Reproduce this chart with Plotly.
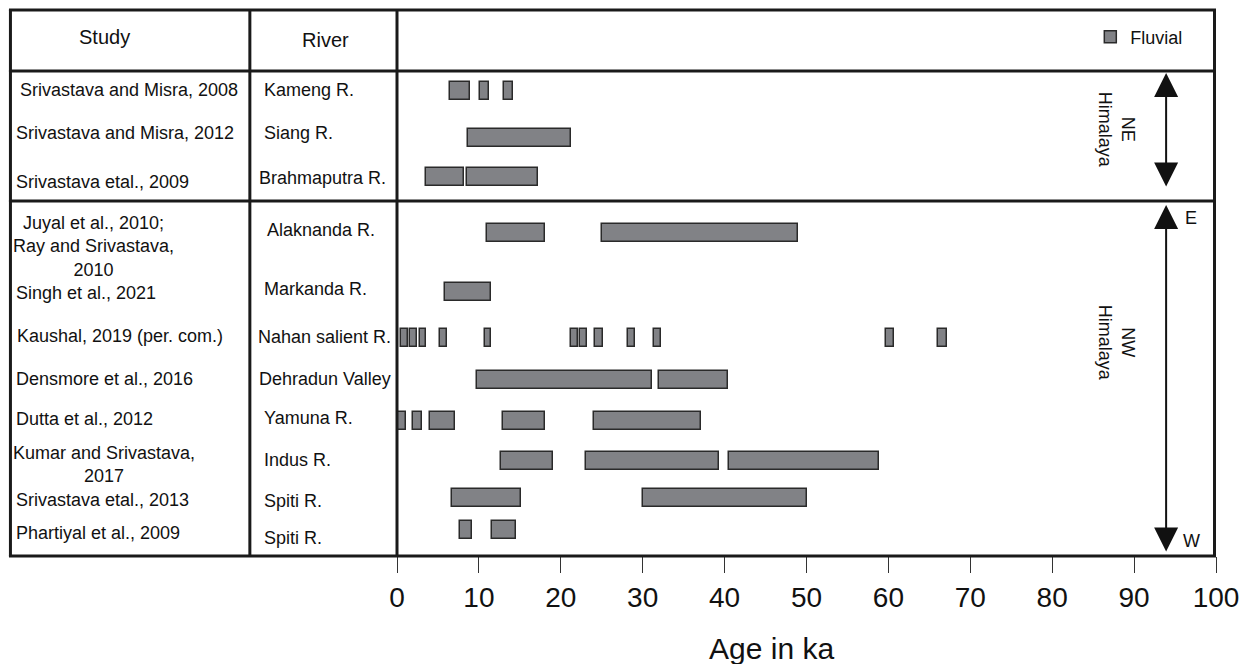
import plotly.graph_objects as go

# ---------------- data ----------------
studies = [
    "Srivastava and Misra, 2008",
    "Srivastava and Misra, 2012",
    "Srivastava etal., 2009",
    "Juyal et al., 2010;<br>Ray and Srivastava,<br>2010",
    "Singh et al., 2021",
    "Kaushal, 2019 (per. com.)",
    "Densmore et al., 2016",
    "Dutta et al., 2012",
    "Kumar and Srivastava,<br>2017",
    "Srivastava etal., 2013",
    "Phartiyal et al., 2009",
]
rivers = [
    "Kameng R.", "Siang R.", "Brahmaputra R.", "Alaknanda R.", "Markanda R.",
    "Nahan salient R.", "Dehradun Valley", "Yamuna R.", "Indus R.", "Spiti R.", "Spiti R.",
]

# fluvial age intervals (start ka, end ka) per row
kameng = [(6.5, 8.9), (10.1, 11.2), (13.1, 14.2)]
siang = [(8.7, 21.2)]
brahmaputra = [(3.5, 8.2), (8.6, 17.2)]
alaknanda = [(11.0, 18.1), (25.0, 49.0)]
markanda = [(5.9, 11.5)]
nahan = [(0.5, 1.3), (1.6, 2.5), (2.8, 3.6), (5.2, 6.1), (10.7, 11.5), (21.2, 22.1),
         (22.3, 23.2), (24.2, 25.1), (28.2, 29.1), (31.4, 32.2), (59.7, 60.7), (66.1, 67.1)]
dehradun = [(9.8, 31.1), (32.0, 40.4)]
yamuna = [(0.0, 1.1), (2.0, 3.1), (4.0, 7.1), (13.0, 18.1), (24.0, 37.1)]
indus = [(12.7, 19.1), (23.1, 39.3), (40.5, 58.8)]
spiti_2013 = [(6.7, 15.2), (30.0, 50.0)]
spiti_2009 = [(7.7, 9.2), (11.6, 14.5)]
row_intervals = [kameng, siang, brahmaputra, alaknanda, markanda, nahan,
                 dehradun, yamuna, indus, spiti_2013, spiti_2009]

x_ticks = [0, 10, 20, 30, 40, 50, 60, 70, 80, 90, 100]

# ---------------- layout helpers (pixel geometry of the table) ----------------
W, H = 1249, 664
ML, MR, MT, MB = 397, 31, 10, 108
PW = W - ML - MR
PH = H - MT - MB
row_y = [90.5, 138.3, 176.7, 233, 292.2, 338.3, 379.7, 420.5, 461.2, 497.7, 529.8]
study_pos = [(17, 90), (13, 133), (13, 182), (10, 246), (13, 293), (14, 336),
             (13, 379), (13, 419), (10, 464), (13, 500), (13, 533)]
river_pos = [(262, 90), (262, 133), (257, 178), (265, 230), (262, 289), (256, 337),
             (257, 379), (262, 418), (262, 460), (262, 501), (262, 538)]


def px(xp):
    return (xp - ML) / PW


def py(yp):
    return 1 - (yp - MT) / PH


FONT = "Liberation Sans, Arial, sans-serif"

ys, bases, lens = [], [], []
for yv, ivs in zip(row_y, row_intervals):
    for s, e in ivs:
        ys.append(yv)
        bases.append(s)
        lens.append(e - s)

fig = go.Figure()
fig.add_trace(go.Bar(
    orientation="h", y=ys, base=bases, x=lens, width=18,
    name="Fluvial",
    marker=dict(color="#818286", line=dict(color="#2a2a2a", width=1.5)),
    showlegend=True, hoverinfo="skip",
))

shapes = []
LC = "#1a1a1a"
for yl in [10, 71, 201, 556]:
    shapes.append(dict(type="line", xref="paper", yref="paper", x0=px(8), x1=px(1218),
                       y0=py(yl), y1=py(yl), line=dict(color=LC, width=3)))
for xl in [9.5, 249.5, 397, 1216.5]:
    shapes.append(dict(type="line", xref="paper", yref="paper", x0=px(xl), x1=px(xl),
                       y0=py(10), y1=py(556), line=dict(color=LC, width=3)))

ann = []
ann.append(dict(text="Study", x=px(104), y=37, xref="paper", yref="y", xanchor="center",
                showarrow=False, font=dict(size=20, color="#111", family=FONT)))
ann.append(dict(text="River", x=px(325), y=40, xref="paper", yref="y", xanchor="center",
                showarrow=False, font=dict(size=20, color="#111", family=FONT)))
for t, (xp, yp) in zip(studies, study_pos):
    ann.append(dict(text=t, x=px(xp), y=yp, xref="paper", yref="y", xanchor="left",
                    align="center", showarrow=False,
                    font=dict(size=18, color="#111", family=FONT)))
for t, (xp, yp) in zip(rivers, river_pos):
    ann.append(dict(text=t, x=px(xp), y=yp, xref="paper", yref="y", xanchor="left",
                    showarrow=False, font=dict(size=18, color="#111", family=FONT)))

ax_x = (1168 - ML) / PW * 100
# NE double arrow
ann.append(dict(text="", x=ax_x, y=73, ax=ax_x, ay=188, xref="x", yref="y", axref="x", ayref="y",
                showarrow=True, arrowhead=2, startarrowhead=2, arrowside="end+start",
                arrowsize=2.4, startarrowsize=2.4, arrowwidth=2, arrowcolor="#111"))
# NW / E-W double arrow
ann.append(dict(text="", x=ax_x, y=205, ax=ax_x, ay=553, xref="x", yref="y", axref="x", ayref="y",
                showarrow=True, arrowhead=2, startarrowhead=2, arrowside="end+start",
                arrowsize=2.4, startarrowsize=2.4, arrowwidth=2, arrowcolor="#111"))
ann.append(dict(text="NE<br>Himalaya", x=(1119 - ML) / PW * 100, y=130, xref="x", yref="y",
                textangle=90, showarrow=False, font=dict(size=18, color="#111", family=FONT)))
ann.append(dict(text="NW<br>Himalaya", x=(1119 - ML) / PW * 100, y=343, xref="x", yref="y",
                textangle=90, showarrow=False, font=dict(size=18, color="#111", family=FONT)))
ann.append(dict(text="E", x=(1193 - ML) / PW * 100, y=218, xref="x", yref="y",
                showarrow=False, font=dict(size=18, color="#111", family=FONT)))
ann.append(dict(text="W", x=(1193 - ML) / PW * 100, y=541, xref="x", yref="y",
                showarrow=False, font=dict(size=18, color="#111", family=FONT)))
# x-axis title (sits left of plot centre in the reference)
ann.append(dict(text="Age in ka", x=px(772), y=py(648), xref="paper", yref="paper",
                xanchor="center", yanchor="middle", showarrow=False,
                font=dict(size=30, color="#111", family=FONT)))

fig.update_layout(
    width=W, height=H,
    margin=dict(l=ML, r=MR, t=MT, b=MB),
    plot_bgcolor="white", paper_bgcolor="white",
    barmode="overlay", bargap=0,
    shapes=shapes, annotations=ann,
    legend=dict(x=px(1092), y=py(37), xanchor="left", yanchor="middle",
                bgcolor="rgba(0,0,0,0)", font=dict(size=18, color="#111", family=FONT)),
    xaxis=dict(range=[0, 100], tickvals=x_ticks, ticks="outside", ticklen=16, tickwidth=1,
               tickcolor="#333", showgrid=False, zeroline=False, showline=False,
               tickfont=dict(size=28, color="#111", family=FONT)),
    yaxis=dict(range=[556, 10], visible=False, showgrid=False, zeroline=False),
)

fig.write_html("out.html")
